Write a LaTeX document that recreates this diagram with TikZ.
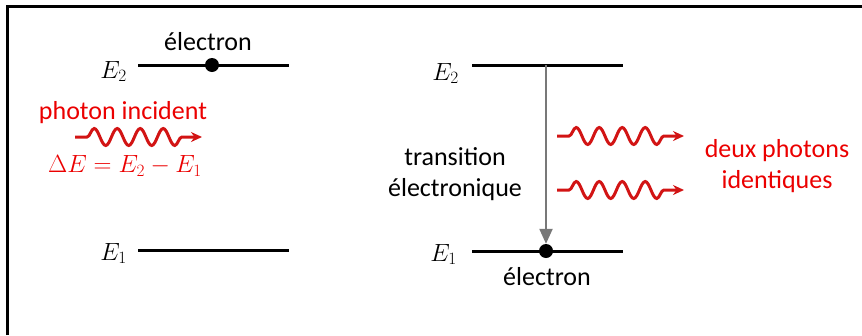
\documentclass[tikz,border=0pt]{standalone}
\usepackage{fontspec}
\setmainfont{Carlito}
\usetikzlibrary{arrows.meta,positioning,decorations.pathmorphing}
\definecolor{phRed}{RGB}{235,0,0}
\definecolor{waveRed}{RGB}{210,20,20}
\definecolor{trGray}{RGB}{120,120,120}

\begin{document}
\begin{tikzpicture}[x=1pt,y=-1pt,
    level/.style={line width=3pt,black},
    lbl/.style={font=\fontsize{26}{31}\selectfont,inner sep=0pt,align=center},
    elabel/.style={font=\fontsize{25}{29}\selectfont,inner sep=0pt,anchor=base east},
    redlbl/.style={lbl,text=phRed},
    electron/.style={circle,fill=black,minimum size=14pt,inner sep=0pt},
    photon/.style={waveRed,line width=3pt,-{Stealth[length=11pt,width=10pt]},decorate,
      decoration={snake,amplitude=8.5pt,segment length=23pt,pre length=12pt,post length=16pt}},
    transit/.style={trGray,line width=2.2pt,-{Triangle[length=15pt,width=13pt]}}
  ]
    \useasboundingbox (0,0) rectangle (862,335);
    \draw[line width=3pt] (7,335) |- (862,6);

    % avant : absorption d'un photon
    \coordinate (a2l) at (138,65); \coordinate (a2r) at (289,65);
    \coordinate (a1l) at (138,250); \coordinate (a1r) at (289,250);
    \draw[level] (a2l) -- (a2r);
    \draw[level] (a1l) -- (a1r);
    \node[electron] (eA) at (212,65) {};
    \node[lbl] (elA) at (208,42) {électron};
    \node[elabel] (E2a) at (127,78) {$E_2$};
    \node[elabel] (E1a) at (127,260) {$E_1$};
    \node[redlbl] (inc) at (123,113) {photon incident};
    \coordinate (wa) at (75,137); \coordinate (wb) at (202,137);
    \draw[photon] (wa) -- (wb);
    \node[redlbl,font=\fontsize{24}{28}\selectfont] (dE) at (125,166) {$\Delta E = E_2 - E_1$};

    % apres : emission stimulee
    \coordinate (b2l) at (472,65); \coordinate (b2r) at (623,65);
    \coordinate (b1l) at (472,251); \coordinate (b1r) at (623,251);
    \draw[level] (b2l) -- (b2r);
    \draw[level] (b1l) -- (b1r);
    \node[elabel] (E2b) at (459,80) {$E_2$};
    \node[elabel] (E1b) at (457,261) {$E_1$};
    \coordinate (top) at (546,65);
    \node[electron] (eB) at (546,251) {};
    \draw[transit] (top) -- (eB.north);
    \node[lbl] (elB) at (547,277) {électron};
    \node[lbl] (tr) at (455,174) {transition\\électronique};
    \coordinate (w1a) at (557,136); \coordinate (w1b) at (684,136);
    \coordinate (w2a) at (557,190); \coordinate (w2b) at (684,190);
    \draw[photon] (w1a) -- (w1b);
    \draw[photon] (w2a) -- (w2b);
    \node[redlbl] (two) at (777,166) {deux photons\\identiques};
  \end{tikzpicture}
\end{document}
